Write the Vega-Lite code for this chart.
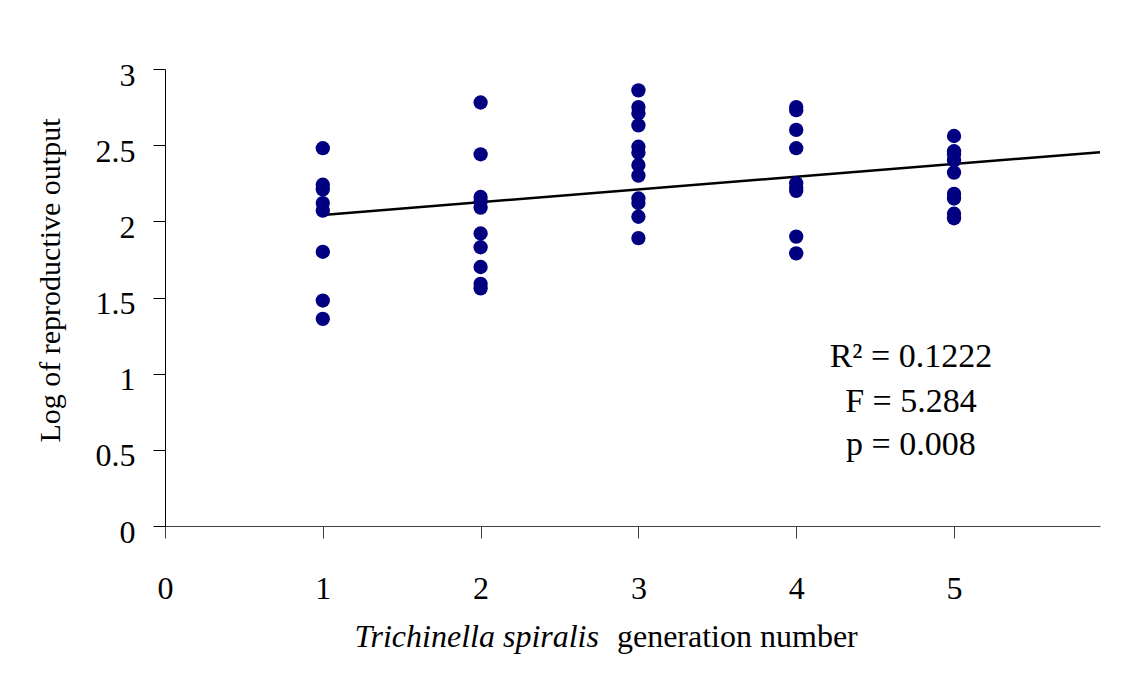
{
  "$schema": "https://vega.github.io/schema/vega-lite/v6.json",
  "width": 935,
  "height": 457,
  "autosize": "none",
  "padding": {"left": 165, "top": 69, "right": 34, "bottom": 166},
  "background": "white",
  "config": {
    "view": {"stroke": null},
    "font": "Liberation Serif",
    "axis": {
      "grid": false,
      "labelFont": "Liberation Serif",
      "titleFont": "Liberation Serif",
      "labelColor": "black",
      "titleColor": "black",
      "titleFontWeight": "normal",
      "domainColor": "black",
      "tickColor": "black",
      "tickSize": 12,
      "labelFontSize": 32
    }
  },
  "datasets": {
    "points": [
      {"gen": 1, "val": 2.48}, {"gen": 1, "val": 2.24}, {"gen": 1, "val": 2.21}, {"gen": 1, "val": 2.12},
      {"gen": 1, "val": 2.07}, {"gen": 1, "val": 1.80}, {"gen": 1, "val": 1.48}, {"gen": 1, "val": 1.36},
      {"gen": 2, "val": 2.78}, {"gen": 2, "val": 2.44}, {"gen": 2, "val": 2.16}, {"gen": 2, "val": 2.13},
      {"gen": 2, "val": 2.09}, {"gen": 2, "val": 1.92}, {"gen": 2, "val": 1.83}, {"gen": 2, "val": 1.70},
      {"gen": 2, "val": 1.59}, {"gen": 2, "val": 1.56},
      {"gen": 3, "val": 2.86}, {"gen": 3, "val": 2.75}, {"gen": 3, "val": 2.71}, {"gen": 3, "val": 2.63},
      {"gen": 3, "val": 2.49}, {"gen": 3, "val": 2.45}, {"gen": 3, "val": 2.37}, {"gen": 3, "val": 2.30},
      {"gen": 3, "val": 2.15}, {"gen": 3, "val": 2.12}, {"gen": 3, "val": 2.03}, {"gen": 3, "val": 1.89},
      {"gen": 4, "val": 2.75}, {"gen": 4, "val": 2.73}, {"gen": 4, "val": 2.60}, {"gen": 4, "val": 2.48},
      {"gen": 4, "val": 2.25}, {"gen": 4, "val": 2.22}, {"gen": 4, "val": 2.20}, {"gen": 4, "val": 1.90},
      {"gen": 4, "val": 1.79},
      {"gen": 5, "val": 2.56}, {"gen": 5, "val": 2.46}, {"gen": 5, "val": 2.44}, {"gen": 5, "val": 2.40},
      {"gen": 5, "val": 2.32}, {"gen": 5, "val": 2.18}, {"gen": 5, "val": 2.15}, {"gen": 5, "val": 2.05},
      {"gen": 5, "val": 2.02}
    ],
    "fit": [
      {"gen": 1, "val": 2.042},
      {"gen": 5.925, "val": 2.454}
    ],
    "notes": [
      {"gen": 4.727, "val": 1.044, "label": "R² = 0.1222"},
      {"gen": 4.727, "val": 0.748, "label": "F = 5.284"},
      {"gen": 4.727, "val": 0.466, "label": "p = 0.008"}
    ],
    "xtitle": [
      {"gen": 2.75, "val": -0.794, "label": "Trichinella spiralis", "part": "italic"},
      {"gen": 2.864, "val": -0.794, "label": "generation number", "part": "normal"}
    ]
  },
  "encoding": {
    "x": {
      "field": "gen", "type": "quantitative",
      "scale": {"domain": [0, 5.925], "nice": false, "zero": false},
      "axis": {
        "values": [0, 1, 2, 3, 4, 5],
        "title": null,
        "format": "d",
        "labelPadding": 35,
        "domainColor": "#404040",
        "tickColor": "#404040",
        "labelFlush": false
      }
    },
    "y": {
      "field": "val", "type": "quantitative",
      "scale": {"domain": [0, 3], "nice": false},
      "axis": {
        "values": [0, 0.5, 1, 1.5, 2, 2.5, 3],
        "format": "~g",
        "title": "Log of reproductive output",
        "titleFontSize": 30,
        "titleAngle": -90,
        "titleAlign": "center",
        "titleBaseline": "middle",
        "titleX": -115,
        "titleY": 211,
        "labelPadding": 18,
        "labelBaseline": "middle",
        "labelOffset": 6,
        "labelFlush": false
      }
    }
  },
  "layer": [
    {
      "data": {"name": "fit"},
      "mark": {"type": "line", "color": "black", "strokeWidth": 2.6}
    },
    {
      "data": {"name": "points"},
      "mark": {"type": "circle", "color": "#000080", "opacity": 1, "size": 205}
    },
    {
      "data": {"name": "notes"},
      "mark": {"type": "text", "font": "Liberation Serif", "fontSize": 34, "align": "center", "baseline": "alphabetic", "color": "black"},
      "encoding": {"text": {"field": "label"}}
    },
    {
      "data": {"name": "xtitle"},
      "transform": [{"filter": "datum.part == 'italic'"}],
      "mark": {"type": "text", "font": "Liberation Serif", "fontSize": 32, "fontStyle": "italic", "align": "right", "baseline": "alphabetic", "color": "black", "clip": false},
      "encoding": {"text": {"field": "label"}}
    },
    {
      "data": {"name": "xtitle"},
      "transform": [{"filter": "datum.part == 'normal'"}],
      "mark": {"type": "text", "font": "Liberation Serif", "fontSize": 32, "align": "left", "baseline": "alphabetic", "color": "black", "clip": false},
      "encoding": {"text": {"field": "label"}}
    }
  ]
}
